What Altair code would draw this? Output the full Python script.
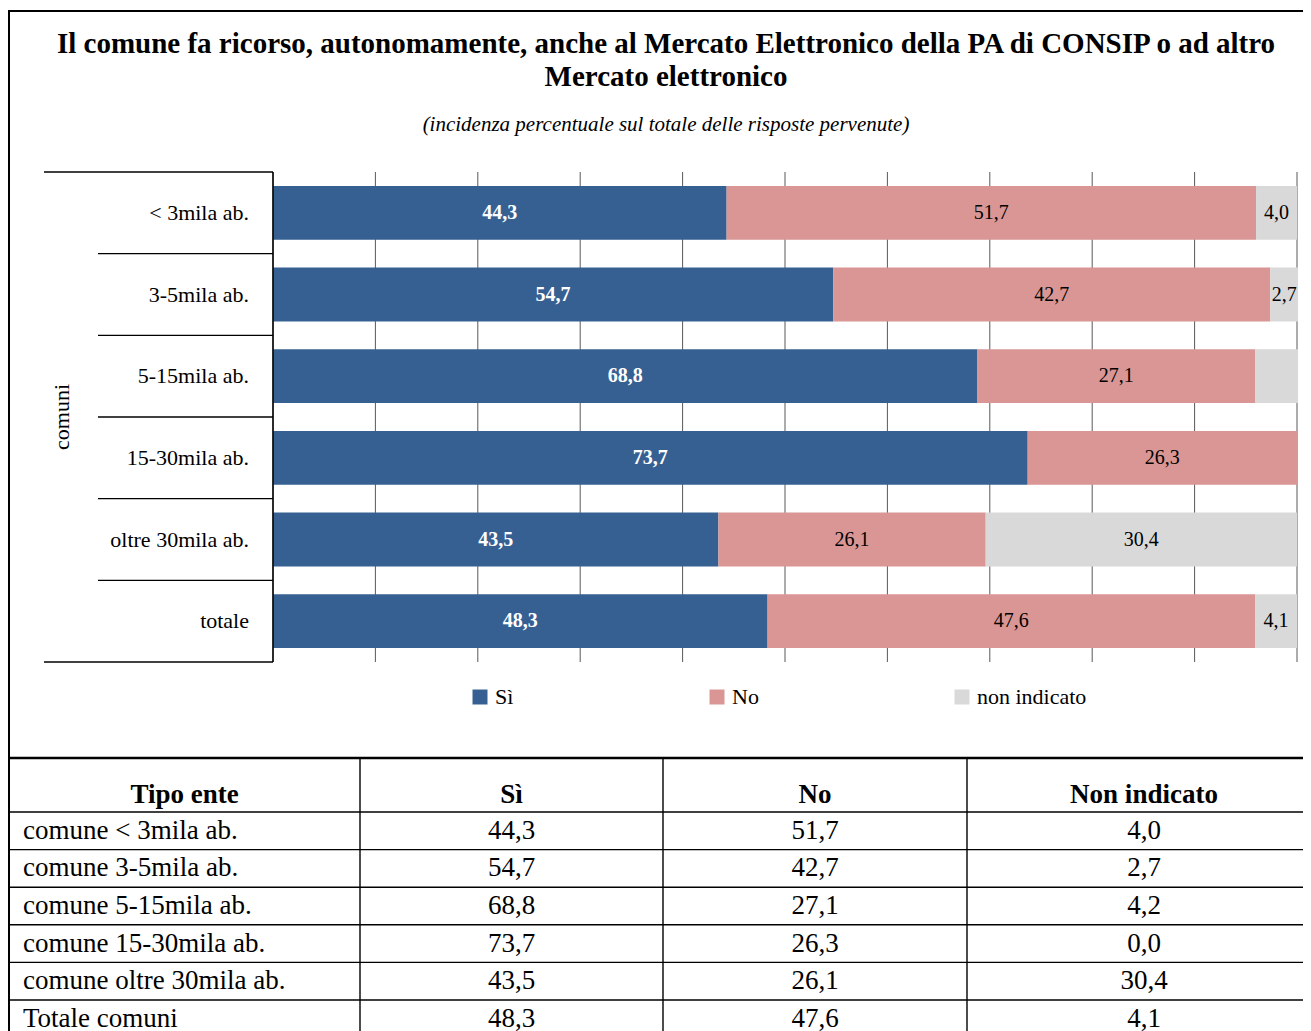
import altair as alt
import pandas as pd

# ---------------- data ----------------
TITLE_LINES = [
    "Il comune fa ricorso, autonomamente, anche al Mercato Elettronico della PA di CONSIP o ad altro",
    "Mercato elettronico",
]
SUBTITLE = "(incidenza percentuale sul totale delle risposte pervenute)"
GROUP_LABEL = "comuni"
CATEGORIES = ["< 3mila ab.", "3-5mila ab.", "5-15mila ab.", "15-30mila ab.", "oltre 30mila ab.", "totale"]
SERIES = ["Sì", "No", "non indicato"]
SI = [44.3, 54.7, 68.8, 73.7, 43.5, 48.3]
NO = [51.7, 42.7, 27.1, 26.3, 26.1, 47.6]
NON_INDICATO = [4.0, 2.7, 4.2, 0.0, 30.4, 4.1]
HIDDEN_LABELS = [("5-15mila ab.", "non indicato")]
X_TICKS = [0, 10, 20, 30, 40, 50, 60, 70, 80, 90, 100]
TABLE_HEADER = ["Tipo ente", "Sì", "No", "Non indicato"]
TABLE_ROWS = [
    "comune < 3mila ab.",
    "comune 3-5mila ab.",
    "comune 5-15mila ab.",
    "comune 15-30mila ab.",
    "comune oltre 30mila ab.",
    "Totale comuni",
]
COLORS = ["#376092", "#D99694", "#D9D9D9"]

SERIF = "Liberation Serif"
W, H = 1295, 1023


def fmt(v):
    return f"{v:.1f}".replace(".", ",")


# ---------------- frames ----------------
bar_rows = []
for i, cat in enumerate(CATEGORIES):
    for k, (s, vals) in enumerate(zip(SERIES, [SI, NO, NON_INDICATO])):
        v = vals[i]
        bar_rows.append(dict(cat=cat, row=i, series=s, order=k, value=v, label=fmt(v),
                             show=bool(v > 0 and (cat, s) not in HIDDEN_LABELS)))
bars_df = pd.DataFrame(bar_rows)
cat_df = pd.DataFrame({"cat": CATEGORIES, "row": list(range(len(CATEGORIES)))})

table_first = pd.DataFrame({"txt": TABLE_ROWS, "r": list(range(len(TABLE_ROWS))), "c": 0})
num_cells = []
for r in range(len(TABLE_ROWS)):
    for c, vals in enumerate([SI, NO, NON_INDICATO], start=1):
        num_cells.append(dict(txt=fmt(vals[r]), r=r, c=c))
table_nums = pd.DataFrame(num_cells)
header_df = pd.DataFrame({"txt": TABLE_HEADER, "c": list(range(len(TABLE_HEADER)))})

# ---------------- scales ----------------
XS = alt.Scale(domain=[0, 100], range=[265, 1289], nice=False, zero=False)
YS = alt.Scale(domain=[0, len(CATEGORIES)], range=[164, 654], nice=False, zero=False)
TXS = alt.Scale(domain=[0, 1, 2, 3, 4], range=[1, 352, 655, 959, 1313], nice=False, zero=False)
TYS = alt.Scale(domain=[-1, 0, len(TABLE_ROWS)], range=[750, 804, 804 + 37.6 * len(TABLE_ROWS)],
                nice=False, zero=False)

layers = []

# gridlines (behind bars)
layers.append(
    alt.Chart(pd.DataFrame({"t": X_TICKS})).mark_rule(color="#595959", strokeWidth=1).encode(
        x=alt.X("t:Q", scale=XS, axis=None), y=alt.value(164), y2=alt.value(654)
    )
)

base = alt.Chart(bars_df).transform_stack(
    stack="value", groupby=["cat"], sort=[alt.SortField("order")], as_=["x0", "x1"]
).transform_calculate(
    ytop="datum.row + 0.17", ybot="datum.row + 0.83",
    xmid="(datum.x0 + datum.x1) / 2", ymid="datum.row + 0.5",
)

layers.append(
    base.mark_rect(strokeWidth=0).encode(
        x=alt.X("x0:Q", scale=XS, axis=None),
        x2="x1:Q",
        y=alt.Y("ytop:Q", scale=YS, axis=None),
        y2="ybot:Q",
        color=alt.Color(
            "series:N",
            scale=alt.Scale(domain=SERIES, range=COLORS),
            legend=alt.Legend(
                title=None, orient="none", legendX=461, legendY=678, direction="horizontal",
                symbolType="square", symbolSize=225, symbolStrokeWidth=0, symbolOpacity=1,
                labelFont=SERIF, labelFontSize=22, labelColor="#000000",
                columnPadding=192, labelOffset=4, padding=0,
            ),
        ),
    )
)

layers.append(
    base.transform_filter("datum.show && datum.series == 'Sì'").mark_text(
        font=SERIF, fontSize=20, fontWeight="bold", color="white", baseline="middle"
    ).encode(x=alt.X("xmid:Q", scale=XS, axis=None), y=alt.Y("ymid:Q", scale=YS, axis=None), text="label:N")
)
layers.append(
    base.transform_filter("datum.show && datum.series != 'Sì'").mark_text(
        font=SERIF, fontSize=20, color="#000000", baseline="middle"
    ).encode(x=alt.X("xmid:Q", scale=XS, axis=None), y=alt.Y("ymid:Q", scale=YS, axis=None), text="label:N")
)

# y axis line
layers.append(
    alt.Chart(pd.DataFrame({"t": [0]})).mark_rule(color="#000000", strokeWidth=1.5).encode(
        x=alt.X("t:Q", scale=XS, axis=None), y=alt.value(164), y2=alt.value(654)
    )
)
# category separators
layers.append(
    alt.Chart(pd.DataFrame({"b": list(range(1, len(CATEGORIES)))})).mark_rule(color="#000000", strokeWidth=1.3).encode(
        y=alt.Y("b:Q", scale=YS, axis=None), x=alt.value(90), x2=alt.value(265)
    )
)
layers.append(
    alt.Chart(pd.DataFrame({"b": [0, len(CATEGORIES)]})).mark_rule(color="#000000", strokeWidth=1.3).encode(
        y=alt.Y("b:Q", scale=YS, axis=None), x=alt.value(36), x2=alt.value(265)
    )
)
# category labels
layers.append(
    alt.Chart(cat_df).transform_calculate(ymid="datum.row + 0.5").mark_text(
        font=SERIF, fontSize=22, align="right", baseline="middle", color="#000000"
    ).encode(x=alt.value(241), y=alt.Y("ymid:Q", scale=YS, axis=None), text="cat:N")
)
layers.append(
    alt.Chart(pd.DataFrame({"t": [GROUP_LABEL]})).mark_text(
        font=SERIF, fontSize=22, angle=270, align="center", baseline="middle", color="#000000"
    ).encode(x=alt.value(54), y=alt.value(409), text="t:N")
)

# titles
layers.append(
    alt.Chart(pd.DataFrame({"t": [TITLE_LINES[0]]})).mark_text(
        font=SERIF, fontSize=29, fontWeight="bold", align="center", baseline="alphabetic", color="#000000"
    ).encode(x=alt.value(658), y=alt.value(45), text="t:N")
)
layers.append(
    alt.Chart(pd.DataFrame({"t": [TITLE_LINES[1]]})).mark_text(
        font=SERIF, fontSize=29, fontWeight="bold", align="center", baseline="alphabetic", color="#000000"
    ).encode(x=alt.value(658), y=alt.value(78), text="t:N")
)
layers.append(
    alt.Chart(pd.DataFrame({"t": [SUBTITLE]})).mark_text(
        font=SERIF, fontSize=21, fontStyle="italic", align="center", baseline="middle", color="#000000"
    ).encode(x=alt.value(658), y=alt.value(117), text="t:N")
)

# outer box (left + top)
layers.append(
    alt.Chart(pd.DataFrame({"t": [0]})).mark_rule(color="#000000", strokeWidth=2).encode(
        x=alt.value(1), y=alt.value(2), y2=alt.value(H)
    )
)
layers.append(
    alt.Chart(pd.DataFrame({"t": [0]})).mark_rule(color="#000000", strokeWidth=2).encode(
        y=alt.value(3), x=alt.value(0), x2=alt.value(W)
    )
)

# table lines
layers.append(
    alt.Chart(pd.DataFrame({"r": [-1]})).mark_rule(color="#000000", strokeWidth=2.5).encode(
        y=alt.Y("r:Q", scale=TYS, axis=None), x=alt.value(0), x2=alt.value(W)
    )
)
layers.append(
    alt.Chart(pd.DataFrame({"r": list(range(len(TABLE_ROWS)))})).mark_rule(color="#000000", strokeWidth=1.4).encode(
        y=alt.Y("r:Q", scale=TYS, axis=None), x=alt.value(0), x2=alt.value(W)
    )
)
layers.append(
    alt.Chart(pd.DataFrame({"c": [1, 2, 3]})).mark_rule(color="#000000", strokeWidth=1.4).encode(
        x=alt.X("c:Q", scale=TXS, axis=None), y=alt.value(750), y2=alt.value(H)
    )
)
# table header
layers.append(
    alt.Chart(header_df).transform_calculate(xc="datum.c + 0.5", yb="0").mark_text(
        font=SERIF, fontSize=27, fontWeight="bold", align="center", baseline="alphabetic", dy=-9, color="#000000"
    ).encode(x=alt.X("xc:Q", scale=TXS, axis=None), y=alt.Y("yb:Q", scale=TYS, axis=None), text="txt:N")
)
# table body
layers.append(
    alt.Chart(table_first).transform_calculate(ym="datum.r + 0.5").mark_text(
        font=SERIF, fontSize=27, align="left", baseline="middle", dx=14, color="#000000"
    ).encode(x=alt.X("c:Q", scale=TXS, axis=None), y=alt.Y("ym:Q", scale=TYS, axis=None), text="txt:N")
)
layers.append(
    alt.Chart(table_nums).transform_calculate(xc="datum.c + 0.5", ym="datum.r + 0.5").mark_text(
        font=SERIF, fontSize=27, align="center", baseline="middle", color="#000000"
    ).encode(x=alt.X("xc:Q", scale=TXS, axis=None), y=alt.Y("ym:Q", scale=TYS, axis=None), text="txt:N")
)

chart = (
    alt.layer(*layers)
    .resolve_scale(x="independent", y="independent", color="independent")
    .properties(width=W, height=H, padding=0, autosize=alt.AutoSizeParams(type="none"))
    .configure_view(stroke=None)
)

chart.save("out.html", embed_options={"renderer": "svg", "actions": False})
